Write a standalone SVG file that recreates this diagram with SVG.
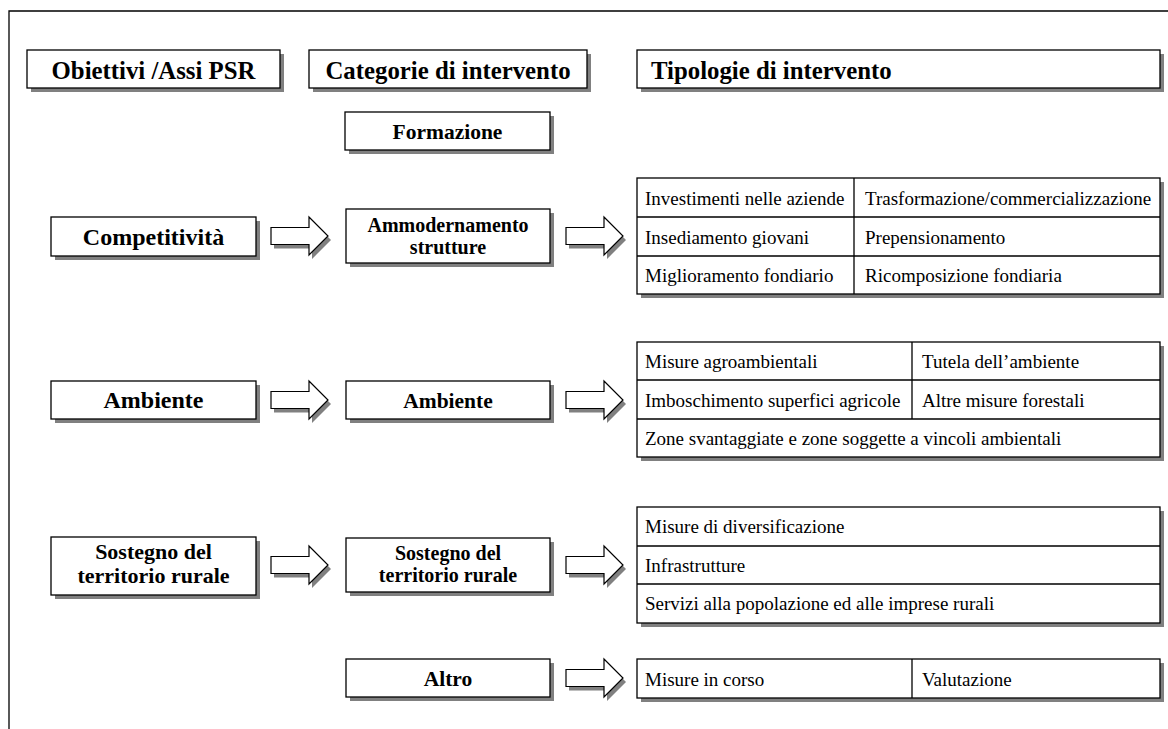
<svg xmlns="http://www.w3.org/2000/svg" width="1168" height="729" viewBox="0 0 1168 729">
<style>
.bx{fill:#fff;stroke:#000;stroke-width:1.3}
.sh{fill:#808080}
.ln{stroke:#000;stroke-width:1.3;fill:none}
.hd{font-family:"Liberation Serif","Times New Roman",serif;font-weight:bold;font-size:24.8px;fill:#000}
.c1{font-family:"Liberation Serif","Times New Roman",serif;font-weight:bold;font-size:24px;fill:#000;text-anchor:middle}
.c1s{font-family:"Liberation Serif","Times New Roman",serif;font-weight:bold;font-size:22px;fill:#000;text-anchor:middle}
.c2{font-family:"Liberation Serif","Times New Roman",serif;font-weight:bold;font-size:21.5px;fill:#000;text-anchor:middle}
.c2s{font-family:"Liberation Serif","Times New Roman",serif;font-weight:bold;font-size:20px;fill:#000;text-anchor:middle}
.ce{font-family:"Liberation Serif","Times New Roman",serif;font-size:19px;fill:#000}
.ar{fill:#fff;stroke:#000;stroke-width:1.2}
</style>
<defs>
<path id="arw" d="M0,-8.5 L38,-8.5 L38,-19 L57,0 L38,19 L38,8.5 L0,8.5 Z"/>
</defs>
<rect width="1168" height="729" fill="#fff"/>
<g id="frame">
<path class="ln" d="M1168,11 H9 V729" stroke-width="1.6"/>
</g>

<g id="hdr-obiettivi">
<rect class="sh" x="31" y="54" width="253" height="38"/>
<rect class="bx" x="27" y="50" width="253" height="38"/>
<text class="hd" x="153.5" y="78.5" text-anchor="middle">Obiettivi /Assi PSR</text>
</g>
<g id="hdr-categorie">
<rect class="sh" x="313" y="54" width="278" height="38"/>
<rect class="bx" x="309" y="50" width="278" height="38"/>
<text class="hd" x="448" y="78.5" text-anchor="middle">Categorie di intervento</text>
</g>
<g id="hdr-tipologie">
<rect class="sh" x="641" y="54" width="523" height="38"/>
<rect class="bx" x="637" y="50" width="523" height="38"/>
<text class="hd" x="651" y="78.5">Tipologie di intervento</text>
</g>

<g id="formazione">
<rect class="sh" x="349" y="116" width="205" height="38"/>
<rect class="bx" x="345" y="112" width="205" height="38"/>
<text class="c2" x="447.5" y="139">Formazione</text>
</g>

<g id="competitivita">
<rect class="sh" x="55" y="221" width="205" height="39"/>
<rect class="bx" x="51" y="217" width="205" height="39"/>
<text class="c1" x="153.5" y="244.5">Competitività</text>
</g>
<g id="ammodernamento">
<rect class="sh" x="350" y="213" width="204" height="54"/>
<rect class="bx" x="346" y="209" width="204" height="54"/>
<text class="c2s" x="448" y="232">Ammodernamento</text>
<text class="c2s" x="448" y="254">strutture</text>
</g>
<g id="tab-competitivita">
<rect class="sh" x="641" y="182" width="523" height="116"/>
<rect class="bx" x="637" y="178" width="523" height="116"/>
<path class="ln" d="M637,217 H1160 M637,256 H1160 M854,178 V294"/>
<text class="ce" x="645" y="204.5">Investimenti nelle aziende</text>
<text class="ce" x="865" y="204.5">Trasformazione/commercializzazione</text>
<text class="ce" x="645" y="243.5">Insediamento giovani</text>
<text class="ce" x="865" y="243.5">Prepensionamento</text>
<text class="ce" x="645" y="282">Miglioramento fondiario</text>
<text class="ce" x="865" y="282">Ricomposizione fondiaria</text>
</g>

<g id="ambiente-asse">
<rect class="sh" x="55" y="385" width="205" height="38"/>
<rect class="bx" x="51" y="381" width="205" height="38"/>
<text class="c1" x="153.5" y="408">Ambiente</text>
</g>
<g id="ambiente-cat">
<rect class="sh" x="350" y="385" width="204" height="38"/>
<rect class="bx" x="346" y="381" width="204" height="38"/>
<text class="c2" x="448" y="407.5">Ambiente</text>
</g>
<g id="tab-ambiente">
<rect class="sh" x="641" y="346" width="523" height="115"/>
<rect class="bx" x="637" y="342" width="523" height="115"/>
<path class="ln" d="M637,380 H1160 M637,419 H1160 M912,342 V419"/>
<text class="ce" x="645" y="368">Misure agroambientali</text>
<text class="ce" x="922" y="368">Tutela dell’ambiente</text>
<text class="ce" x="645" y="406.5">Imboschimento superfici agricole</text>
<text class="ce" x="922" y="406.5">Altre misure forestali</text>
<text class="ce" x="645" y="445">Zone svantaggiate e zone soggette a vincoli ambientali</text>
</g>

<g id="sostegno-asse">
<rect class="sh" x="55" y="541" width="205" height="58"/>
<rect class="bx" x="51" y="537" width="205" height="58"/>
<text class="c1s" x="153.5" y="559">Sostegno del</text>
<text class="c1s" x="153.5" y="583">territorio rurale</text>
</g>
<g id="sostegno-cat">
<rect class="sh" x="350" y="542" width="204" height="54"/>
<rect class="bx" x="346" y="538" width="204" height="54"/>
<text class="c2s" x="448" y="560">Sostegno del</text>
<text class="c2s" x="448" y="582">territorio rurale</text>
</g>
<g id="tab-sostegno">
<rect class="sh" x="641" y="511" width="523" height="116"/>
<rect class="bx" x="637" y="507" width="523" height="116"/>
<path class="ln" d="M637,546 H1160 M637,584 H1160"/>
<text class="ce" x="645" y="533">Misure di diversificazione</text>
<text class="ce" x="645" y="571.5">Infrastrutture</text>
<text class="ce" x="645" y="610">Servizi alla popolazione ed alle imprese rurali</text>
</g>

<g id="altro">
<rect class="sh" x="350" y="663" width="204" height="38"/>
<rect class="bx" x="346" y="659" width="204" height="38"/>
<text class="c2" x="448" y="685.5">Altro</text>
</g>
<g id="tab-altro">
<rect class="sh" x="641" y="663" width="523" height="39"/>
<rect class="bx" x="637" y="659" width="523" height="39"/>
<path class="ln" d="M912,659 V698"/>
<text class="ce" x="645" y="685.5">Misure in corso</text>
<text class="ce" x="922" y="685.5">Valutazione</text>
</g>

<g id="connectors">
<use href="#arw" class="sh" x="274" y="240"/>
<use href="#arw" class="ar" x="271" y="236"/>
<use href="#arw" class="sh" x="569" y="240"/>
<use href="#arw" class="ar" x="566" y="236"/>
<use href="#arw" class="sh" x="274" y="404"/>
<use href="#arw" class="ar" x="271" y="400"/>
<use href="#arw" class="sh" x="569" y="404"/>
<use href="#arw" class="ar" x="566" y="400"/>
<use href="#arw" class="sh" x="274" y="569"/>
<use href="#arw" class="ar" x="271" y="565"/>
<use href="#arw" class="sh" x="569" y="569"/>
<use href="#arw" class="ar" x="566" y="565"/>
<use href="#arw" class="sh" x="569" y="682"/>
<use href="#arw" class="ar" x="566" y="678"/>
</g>
</svg>
